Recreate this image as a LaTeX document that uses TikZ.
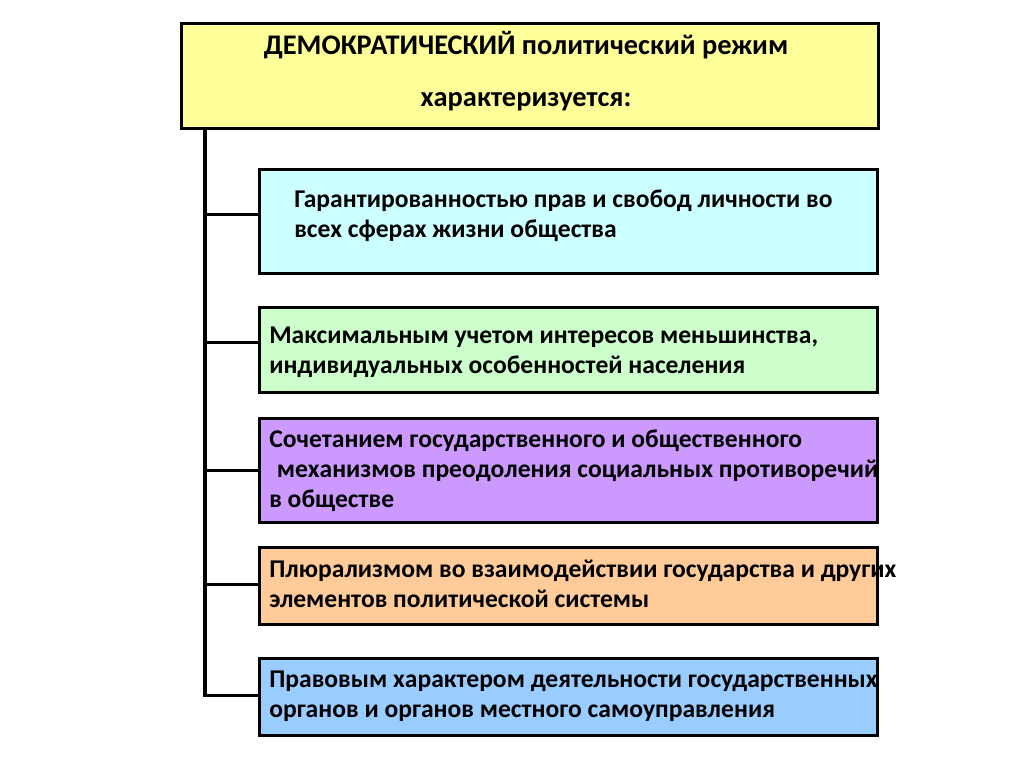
\documentclass[tikz,border=0pt]{standalone}
\usepackage{fontspec}
\setmainfont{Carlito}
\usetikzlibrary{positioning, calc}

\definecolor{titlefill}{HTML}{FFFF99}
\definecolor{cyanfill}{HTML}{CCFFFF}
\definecolor{greenfill}{HTML}{CCFFCC}
\definecolor{purplefill}{HTML}{CC99FF}
\definecolor{orangefill}{HTML}{FFCC99}
\definecolor{bluefill}{HTML}{99CCFF}

\tikzset{
  box/.style={draw, line width=2.2pt, anchor=north west, inner sep=0pt},
  txt/.style={anchor=base west, align=left, inner sep=0pt,
    font=\bfseries\fontsize{18.2}{21.3}\selectfont},
  link/.style={line width=2.2pt}
}

\begin{document}
\begin{tikzpicture}[x=0.25mm, y=-0.25mm]
  \useasboundingbox (0,0) rectangle (1024,767);

  \node[box, fill=titlefill, minimum width=17.425cm, minimum height=2.625cm] (title) at (180,22) {};
  \node[anchor=base, align=center, inner sep=0pt, font=\bfseries\fontsize{20.2}{37.6}\selectfont] (head) at (526,107)
    {ДЕМОКРАТИЧЕСКИЙ политический режим\\характеризуется:};

  \node[box, fill=cyanfill, minimum width=15.45cm, minimum height=2.6cm] (b1) at (258,168) {};
  \node[box, fill=greenfill, minimum width=15.45cm, minimum height=2.125cm] (b2) at (258,306) {};
  \node[box, fill=purplefill, minimum width=15.45cm, minimum height=2.6cm] (b3) at (258,417) {};
  \node[box, fill=orangefill, minimum width=15.45cm, minimum height=1.925cm] (b4) at (258,546) {};
  \node[box, fill=bluefill, minimum width=15.45cm, minimum height=1.925cm] (b5) at (258,657) {};

  \node[txt] (t1) at (294,237) {Гарантированностью прав и свобод личности во\\всех сферах жизни общества};
  \node[txt] (t2) at (269,373) {Максимальным учетом интересов меньшинства,\\индивидуальных особенностей населения};
  \node[txt] (t3) at (269,507) {Сочетанием государственного и общественного\\\hspace{0.3em}механизмов преодоления социальных противоречий\\в обществе};
  \node[txt] (t4) at (269,607) {Плюрализмом во взаимодействии государства и других\\элементов политической системы};
  \node[txt] (t5) at (269,717) {Правовым характером деятельности государственных\\органов и органов местного самоуправления};

  % trunk line and branches
  \coordinate (trunk) at ($(title.south west)+(25,0)$);
  \draw[link] (trunk) |- ($(b5.west)+(0,-2)$);
  \draw[link] ($(b1.west -| trunk)+(0,-7)$) -- ($(b1.west)+(0,-7)$);
  \draw[link] ($(b2.west -| trunk)+(0,-8)$) -- ($(b2.west)+(0,-8)$);
  \draw[link] (b3.west -| trunk) -- (b3.west);
  \draw[link] ($(b4.west -| trunk)+(0,-2)$) -- ($(b4.west)+(0,-2)$);
\end{tikzpicture}
\end{document}
